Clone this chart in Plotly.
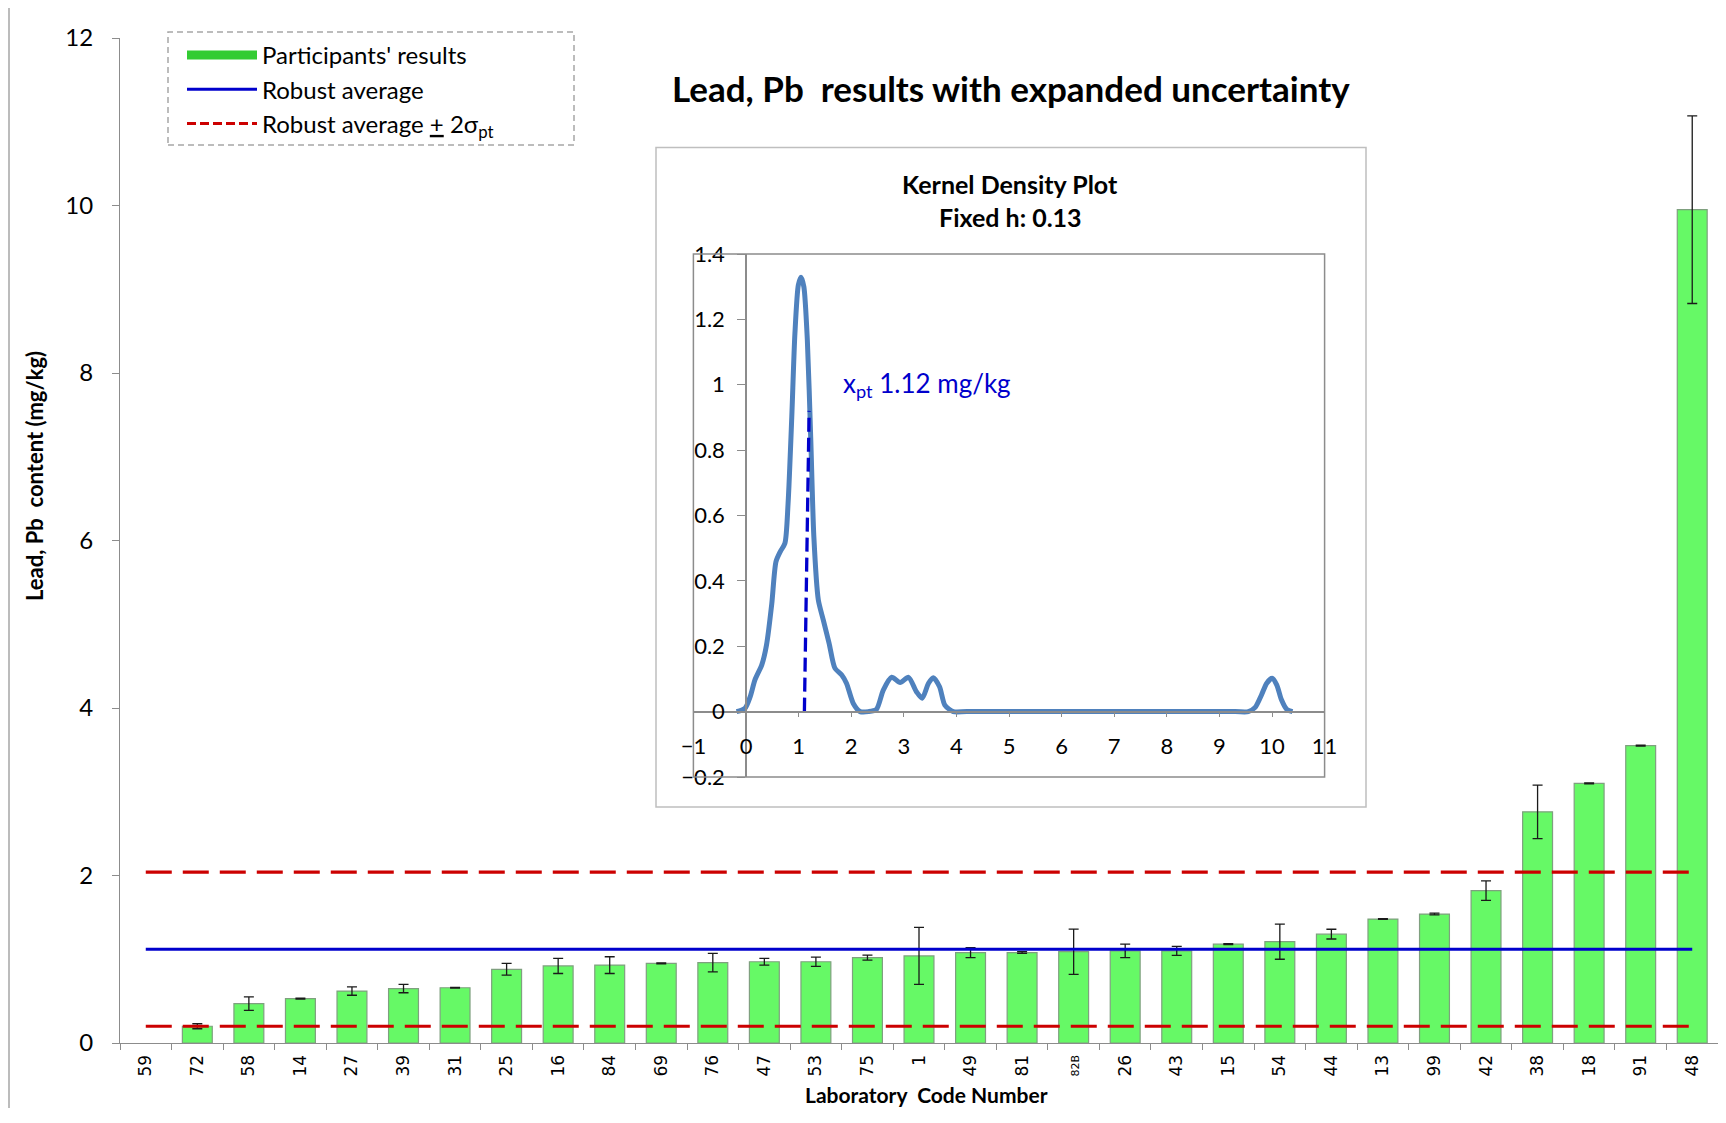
import plotly.graph_objects as go

# ---------------- data ----------------
labs = ["59", "72", "58", "14", "27", "39", "31", "25", "16", "84", "69", "76", "47", "53", "75", "1",
        "49", "81", "82B", "26", "43", "15", "54", "44", "13", "99", "42", "38", "18", "91", "48"]
results = [None, 0.20, 0.47, 0.53, 0.62, 0.65, 0.66, 0.88, 0.92, 0.93, 0.95, 0.96, 0.97, 0.97, 1.02, 1.04,
           1.08, 1.08, 1.09, 1.10, 1.10, 1.18, 1.21, 1.30, 1.48, 1.54, 1.82, 2.76, 3.10, 3.55, 9.95]
uncertainty = [None, 0.03, 0.08, 0.005, 0.05, 0.05, 0.005, 0.07, 0.09, 0.10, 0.005, 0.11, 0.04, 0.055, 0.03, 0.34,
               0.06, 0.01, 0.27, 0.08, 0.054, 0.005, 0.21, 0.058, 0.005, 0.01, 0.116, 0.32, 0.005, 0.005, 1.12]
robust_avg = 1.12
lower_limit = 0.20
upper_limit = 2.04

kde_x = [-0.18, -0.02, 0.08, 0.17, 0.30, 0.39, 0.49, 0.57, 0.65, 0.74, 0.80, 0.87, 0.93, 0.995, 1.046,
         1.10, 1.166, 1.23, 1.29, 1.375, 1.47, 1.58, 1.69, 1.82, 1.91, 2.04, 2.17, 2.33, 2.48, 2.61,
         2.77, 2.93, 3.09, 3.24, 3.35, 3.47, 3.56, 3.68, 3.78, 3.94, 4.2, 9.3, 9.55, 9.68, 9.80, 9.90, 10.0,
         10.09, 10.18, 10.28, 10.39]
kde_y = [0.0, 0.01, 0.046, 0.097, 0.143, 0.204, 0.33, 0.459, 0.489, 0.515, 0.637, 0.90, 1.157, 1.305, 1.329,
         1.30, 1.137, 0.84, 0.535, 0.342, 0.28, 0.209, 0.133, 0.112, 0.087, 0.025, 0.0, 0.0, 0.007, 0.066,
         0.105, 0.089, 0.105, 0.061, 0.041, 0.087, 0.104, 0.076, 0.02, 0.0, 0.0, 0.0, 0.0, 0.013, 0.051, 0.087,
         0.102, 0.082, 0.036, 0.007, 0.0]
xpt_line_x = [1.11, 1.20]
xpt_line_y = [0.0, 0.92]

tick_text = ['<span style="font-size:11px">82B</span>' if l == "82B" else l for l in labs]

# ---------------- geometry helpers (reference pixel -> paper) ----------------
OFF = 8                     # page body margin of the html page (all sides)
W_FIG, H_FIG = 1726 - 2 * OFF, 1100   # keep the page free of scrollbars
L, R, T, B = 120, 1718, 38, 1043     # plot area in reference pixels
PW, PH = R - L, B - T


def px(xp):
    return (xp - L) / PW


def py(yp):
    return (B - yp) / PH


FONT = "Lato"
RED_DASH = "26px,11px"

fig = go.Figure()

fig.add_trace(go.Scatter(x=[None], y=[None], mode="lines", name="Participants' results",
                         line=dict(color="#33CC33", width=9)))
fig.add_trace(go.Scatter(x=[None], y=[None], mode="lines", name="Robust average",
                         line=dict(color="#0000CC", width=3)))
fig.add_trace(go.Scatter(x=[None], y=[None], mode="lines",
                         name="Robust average <u>+</u> 2σ<sub>pt</sub>",
                         line=dict(color="#CC0000", width=3, dash="9px,4px")))

fig.add_trace(go.Bar(
    x=labs, y=results, showlegend=False, width=0.58,
    marker=dict(color="#66F966", line=dict(color="#7FA07F", width=1.2)),
    error_y=dict(type="data", array=uncertainty, visible=True, color="#1a1a1a", thickness=1.3, width=5),
))

fig.add_trace(go.Scatter(x=[labs[0], labs[-1]], y=[robust_avg, robust_avg], mode="lines",
                         showlegend=False, line=dict(color="#0000CC", width=3)))
fig.add_trace(go.Scatter(x=[labs[0], labs[-1]], y=[upper_limit, upper_limit], mode="lines",
                         showlegend=False, line=dict(color="#CC0000", width=3.2, dash=RED_DASH)))
fig.add_trace(go.Scatter(x=[labs[0], labs[-1]], y=[lower_limit, lower_limit], mode="lines",
                         showlegend=False, line=dict(color="#CC0000", width=3.2, dash=RED_DASH)))

# inset traces
fig.add_trace(go.Scatter(x=kde_x, y=kde_y, mode="lines", xaxis="x2", yaxis="y2", showlegend=False,
                         line=dict(color="#4F81BD", width=5, shape="spline", smoothing=0.7)))
fig.add_trace(go.Scatter(x=xpt_line_x, y=xpt_line_y, mode="lines", xaxis="x2", yaxis="y2", showlegend=False,
                         line=dict(color="#0000CC", width=3.3, dash="14px,6px")))

inset_x = [px(693.4), px(1324.6)]
inset_y = [py(777), py(254)]

fig.update_layout(
    width=W_FIG, height=H_FIG, autosize=False,
    margin=dict(l=L - OFF, r=(W_FIG + OFF) - R, t=T - OFF, b=(H_FIG + OFF) - B, pad=0, autoexpand=False),
    paper_bgcolor="white", plot_bgcolor="white",
    font=dict(family=FONT, color="#000000"),
    xaxis=dict(type="category", categoryorder="array", categoryarray=labs,
               tickvals=labs, ticktext=tick_text, tickangle=-90,
               tickfont=dict(family="DejaVu Sans", size=17, color="#000"),
               ticklabelstandoff=4, automargin=False,
               showline=True, linecolor="#8C8C8C", linewidth=1.2,
               ticks="outside", tickson="boundaries", ticklen=6, tickcolor="#8C8C8C",
               showgrid=False, range=[-0.5, 30.5], fixedrange=True),
    yaxis=dict(range=[0, 12], dtick=2, showgrid=False, zeroline=False, automargin=False,
               showline=True, linecolor="#8C8C8C", linewidth=1.2,
               ticks="outside", ticklen=7, tickcolor="#8C8C8C", ticklabelstandoff=14,
               tickfont=dict(family=FONT, size=24, color="#000")),
    xaxis2=dict(domain=inset_x, anchor="free", position=py(711.7), range=[-1, 11], dtick=1,
                showgrid=False, zeroline=False, showline=True, linecolor="#8C8C8C", linewidth=1.5,
                ticks="outside", ticklen=5, tickcolor="#8C8C8C", ticklabelstandoff=10, automargin=False,
                tickfont=dict(family=FONT, size=22, color="#000")),
    yaxis2=dict(domain=inset_y, anchor="free", position=px(746), range=[-0.2, 1.4], dtick=0.2,
                showgrid=False, zeroline=False, showline=True, linecolor="#8C8C8C", linewidth=1.5,
                ticks="outside", ticklen=8, tickcolor="#8C8C8C", ticklabelstandoff=8, automargin=False,
                tickfont=dict(family=FONT, size=22, color="#000")),
    legend=dict(x=px(182), y=py(33), xanchor="left", yanchor="top",
                bgcolor="rgba(0,0,0,0)", borderwidth=0, tracegroupgap=0, itemwidth=70,
                font=dict(family=FONT, size=24, color="#000")),
    showlegend=True,
)

shapes = [
    dict(type="rect", xref="paper", yref="paper", x0=px(9), x1=px(1745), y0=py(1145), y1=py(6),
         line=dict(color="#A6A6A6", width=1.5), layer="below"),
    dict(type="rect", xref="paper", yref="paper", x0=px(168), x1=px(574), y0=py(145), y1=py(32),
         line=dict(color="#A6A6A6", width=1.5, dash="6px,4px")),
    dict(type="rect", xref="paper", yref="paper", x0=px(656), x1=px(1366), y0=py(807), y1=py(147.5),
         line=dict(color="#BFBFBF", width=1.5)),
    dict(type="rect", xref="x2 domain", yref="y2 domain", x0=0, x1=1, y0=0, y1=1,
         line=dict(color="#8C8C8C", width=1.5)),
]
fig.update_layout(shapes=shapes)

annotations = [
    dict(text="<b>Lead, Pb  results with expanded uncertainty</b>", xref="paper", yref="paper",
         x=px(1011), y=py(88), xanchor="center", yanchor="middle", showarrow=False,
         font=dict(family=FONT, size=35, color="#000")),
    dict(text="<b>Lead, Pb  content (mg/kg)</b>", xref="paper", yref="paper",
         x=px(35), y=py(476), xanchor="center", yanchor="middle", showarrow=False, textangle=-90,
         font=dict(family=FONT, size=22, color="#000")),
    dict(text="<b>Laboratory  Code Number</b>", xref="paper", yref="paper",
         x=px(926), y=py(1094), xanchor="center", yanchor="middle", showarrow=False,
         font=dict(family=FONT, size=21, color="#000")),
    dict(text="<b>Kernel Density Plot</b>", xref="paper", yref="paper",
         x=px(1010), y=py(184), xanchor="center", yanchor="middle", showarrow=False,
         font=dict(family=FONT, size=25, color="#000")),
    dict(text="<b>Fixed h: 0.13</b>", xref="paper", yref="paper",
         x=px(1010), y=py(217), xanchor="center", yanchor="middle", showarrow=False,
         font=dict(family=FONT, size=25, color="#000")),
    dict(text="x<sub>pt</sub> 1.12 mg/kg", xref="x2", yref="y2", x=1.8, y=1.0,
         xanchor="left", yanchor="middle", showarrow=False,
         font=dict(family=FONT, size=26, color="#0000CC")),
]
fig.update_layout(annotations=annotations)

fig.write_html("out.html", config={"responsive": False})
